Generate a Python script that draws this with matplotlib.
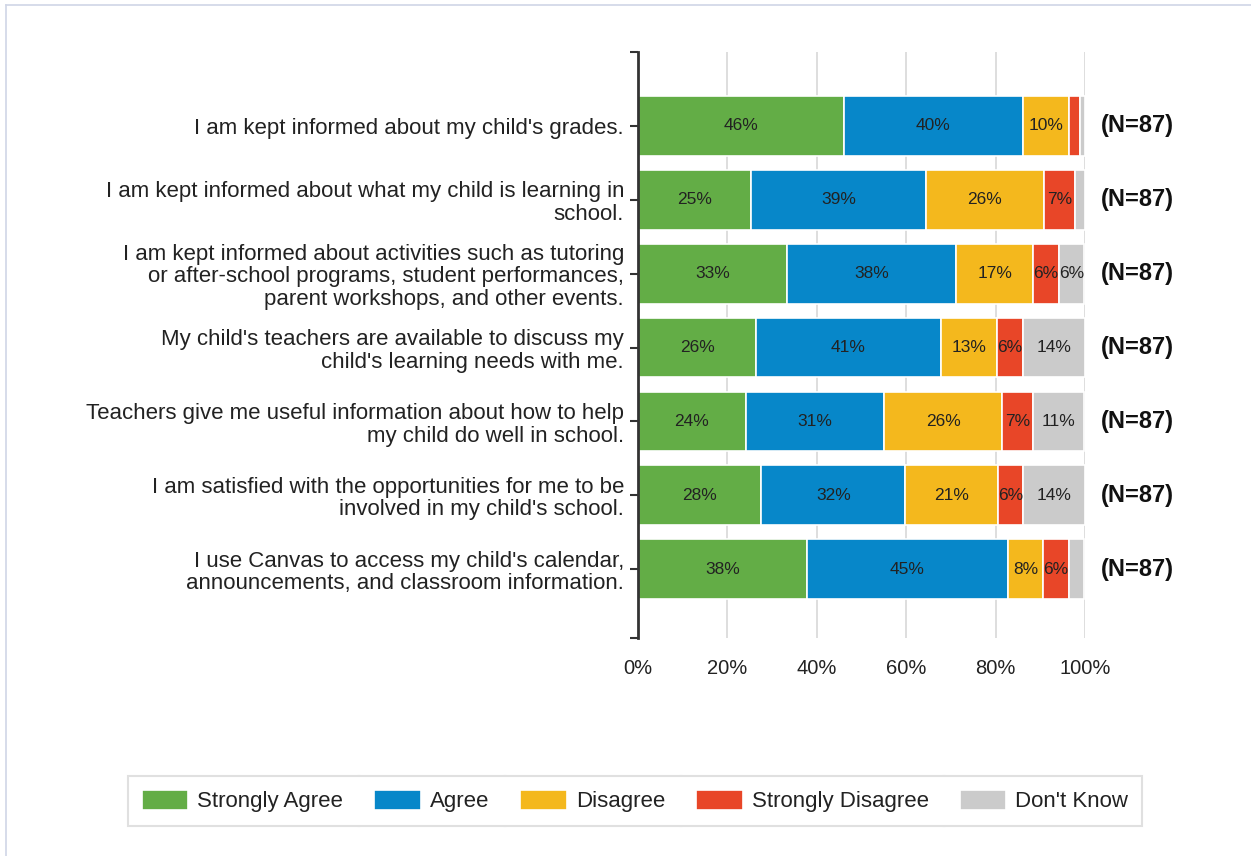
import matplotlib
matplotlib.use("Agg")
import matplotlib.pyplot as plt
import numpy as np
from matplotlib.lines import Line2D

plt.rcParams['font.family'] = ['Liberation Sans', 'DejaVu Sans']

# survey items (top to bottom)
questions = [
    "I am kept informed about my child's grades.",
    "I am kept informed about what my child is learning in\nschool.",
    "I am kept informed about activities such as tutoring\nor after-school programs, student performances,\nparent workshops, and other events.",
    "My child's teachers are available to discuss my\nchild's learning needs with me.",
    "Teachers give me useful information about how to help\nmy child do well in school.",
    "I am satisfied with the opportunities for me to be\ninvolved in my child's school.",
    "I use Canvas to access my child's calendar,\nannouncements, and classroom information.",
]
n_resp = [87, 87, 87, 87, 87, 87, 87]

categories = ["Strongly Agree", "Agree", "Disagree", "Strongly Disagree", "Don't Know"]
colors = ["#63ad46", "#0787c9", "#f4b81d", "#e84628", "#cbcbcb"]

# percent of respondents per category, one list per category
strongly_agree = [46.0, 25.3, 33.3, 26.4, 24.1, 27.6, 37.9]
agree = [40.2, 39.1, 37.9, 41.4, 31.0, 32.2, 44.8]
disagree = [10.3, 26.4, 17.2, 12.6, 26.4, 20.7, 8.0]
strongly_disagree = [2.3, 6.9, 5.7, 5.7, 6.9, 5.7, 5.7]
dont_know = [1.1, 2.3, 5.7, 13.8, 11.4, 13.8, 3.4]

series = [strongly_agree, agree, disagree, strongly_disagree, dont_know]

fig = plt.figure(figsize=(12.51, 8.56), dpi=100)
ax = fig.add_axes([0.510, 0.2547, 0.3573, 0.6846])

y = np.arange(len(questions))
left = np.zeros(len(questions))
for name, vals, col in zip(categories, series, colors):
    vals = np.array(vals)
    bars = ax.barh(y, vals, left=left, height=0.81, color=col, edgecolor='white',
                   linewidth=1.2, label=name, zorder=2)
    for b, v in zip(bars, vals):
        if v >= 5:
            ax.text(b.get_x() + b.get_width() / 2, b.get_y() + b.get_height() / 2,
                    f"{v:.0f}%", ha='center', va='center', fontsize=12.5,
                    color='#222222', zorder=3)
    left += vals

for yi, n in zip(y, n_resp):
    ax.text(103.5, yi, f"(N={n})", ha='left', va='center', fontsize=17,
            fontweight='bold', color='#111111')

ax.set_xlim(0, 100)
ax.set_ylim(6.93, -1.0)
ax.set_xticks([0, 20, 40, 60, 80, 100])
ax.set_xticklabels(["0%", "20%", "40%", "60%", "80%", "100%"], fontsize=14.5, color='#222222')
ax.set_yticks(y)
ax.set_yticklabels(questions, fontsize=16, color='#222222', linespacing=1.1)
ax.set_yticks([-1.0, 6.93], minor=True)
ax.tick_params(axis='y', which='both', length=6, width=1.5, color='#333333', pad=4, direction='out')
ax.tick_params(axis='x', length=0, pad=15)

ax.grid(axis='x', color='#d8d8d8', linewidth=1.2, zorder=0)
ax.set_axisbelow(True)
for s in ['top', 'right', 'bottom']:
    ax.spines[s].set_visible(False)
ax.spines['left'].set_color('#333333')
ax.spines['left'].set_linewidth(2)

# legend
leg = fig.legend(loc='center', bbox_to_anchor=(0.5076, 0.0643), ncol=5, fontsize=16,
                 frameon=True, fancybox=False, edgecolor='#e0e0e0', framealpha=1,
                 handlelength=2.1, handleheight=1.05, handletextpad=0.4,
                 columnspacing=1.4, borderpad=0.6)
leg.get_frame().set_linewidth(1.5)
for t in leg.get_texts():
    t.set_color('#222222')

fig.canvas.draw()
r = fig.canvas.get_renderer()
fb = leg.get_frame().get_window_extent(r)
hs = leg.legend_handles
ts = leg.get_texts()
W, H = fig.bbox.width, fig.bbox.height
for i in range(len(hs) - 1):
    xr = ts[i].get_window_extent(r).x1
    xl = hs[i + 1].get_window_extent(r).x0
    xm = (xr + xl) / 2 / W
    fig.add_artist(Line2D([xm, xm], [fb.y0 / H, fb.y1 / H], color='#e0e0e0', linewidth=1.5))

# page border lines
fig.add_artist(Line2D([6 / 1251, 1], [1 - 5 / 856, 1 - 5 / 856], color='#d0d6e6', linewidth=1.2))
fig.add_artist(Line2D([6 / 1251, 6 / 1251], [0, 1 - 5 / 856], color='#d0d6e6', linewidth=1.2))

fig.savefig("out.png", dpi=100)
